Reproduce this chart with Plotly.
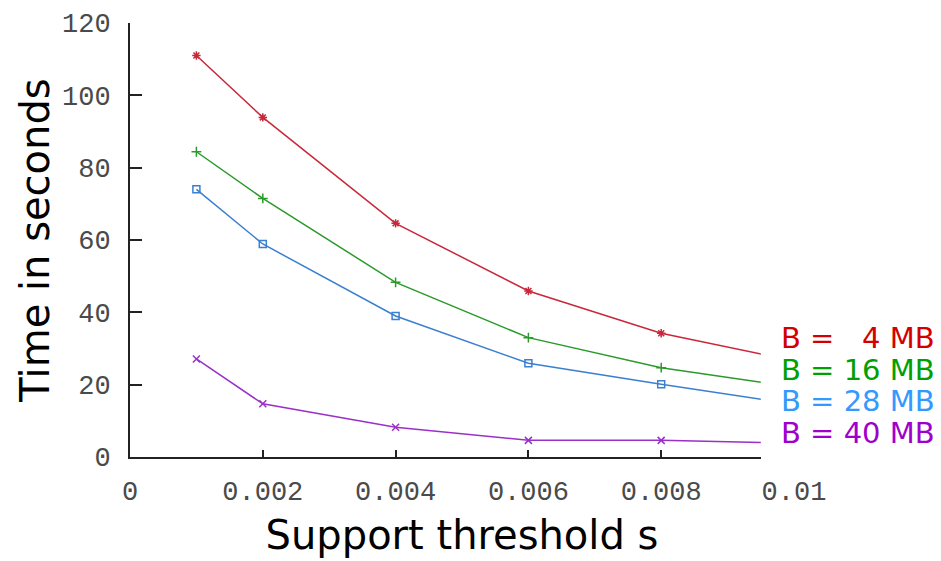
import plotly.graph_objects as go

support = [0.001, 0.002, 0.004, 0.006, 0.008, 0.010]
time_4mb = [111.0, 93.9, 64.6, 45.9, 34.2, 26.6]
time_16mb = [84.4, 71.5, 48.3, 33.0, 24.7, 19.3]
time_28mb = [74.0, 58.9, 39.0, 25.9, 20.1, 14.6]
time_40mb = [27.1, 14.7, 8.2, 4.6, 4.6, 3.8]

series_names = ["B = \u20074 MB", "B = 16 MB", "B = 28 MB", "B = 40 MB"]
series_values = [time_4mb, time_16mb, time_28mb, time_40mb]
line_colors = ["#c8283a", "#2a9a2a", "#3a7fd0", "#9a30c8"]
text_colors = ["#d40000", "#00a000", "#3399ff", "#a000cc"]
symbols = ["asterisk-open", "cross-thin-open", "square-open", "x-thin-open"]

x_ticks = [0, 0.002, 0.004, 0.006, 0.008, 0.01]
y_ticks = [0, 20, 40, 60, 80, 100, 120]

fig = go.Figure()
# helper trace so the tick-label axis (full 0..0.01 scale) is drawn
fig.add_trace(go.Scatter(x=[], y=[], xaxis="x2", yaxis="y", showlegend=False,
                         hoverinfo="skip"))
for name, vals, lc, sym in zip(series_names, series_values, line_colors, symbols):
    fig.add_trace(go.Scatter(
        x=support, y=vals, mode="lines+markers", name=name,
        line=dict(color=lc, width=1.5),
        marker=dict(symbol=sym, size=7, color=lc, line=dict(color=lc, width=1.5)),
        xaxis="x", yaxis="y", showlegend=False,
    ))

tick_font = dict(family="Liberation Mono", size=27, color="#4a4a4a")
title_font = dict(family="DejaVu Sans", size=40, color="#000000")

fig.update_layout(
    width=933, height=553,
    margin=dict(l=122, r=147, t=15, b=104),
    paper_bgcolor="white", plot_bgcolor="rgba(0,0,0,0)",
    xaxis=dict(
        domain=[0, 0.95], range=[0, 0.0095], anchor="y",
        showline=True, linecolor="#222222", linewidth=2,
        ticks="inside", ticklen=7, tickwidth=2, tickcolor="#222222",
        tickvals=x_ticks, showticklabels=False, showgrid=False, zeroline=False,
        automargin=False, layer="above traces",
    ),
    xaxis2=dict(
        domain=[0, 1], range=[0, 0.01], anchor="y",
        showline=False, ticks="", tickvals=x_ticks,
        tickfont=tick_font, showgrid=False, zeroline=False,
        ticklabelstandoff=15, automargin=False,
        title=dict(text="Support threshold s", font=title_font, standoff=13),
    ),
    yaxis=dict(
        domain=[0, 1], range=[0, 120], anchor="x",
        showline=True, linecolor="#222222", linewidth=2,
        ticks="inside", ticklen=12, tickwidth=2, tickcolor="#222222",
        tickvals=y_ticks, tickfont=tick_font, showgrid=False, zeroline=False,
        ticklabelstandoff=12, automargin=False,
        title=dict(text="Time in seconds", font=title_font, standoff=0),
    ),
)

label_y = [0.274, 0.200, 0.129, 0.055]
for name, tc, yy in zip(series_names, text_colors, label_y):
    fig.add_annotation(
        text=name, xref="paper", yref="paper", x=1.215, y=yy,
        xanchor="right", yanchor="middle", showarrow=False,
        font=dict(family="DejaVu Sans", size=29, color=tc),
    )

fig.write_html("out.html")
